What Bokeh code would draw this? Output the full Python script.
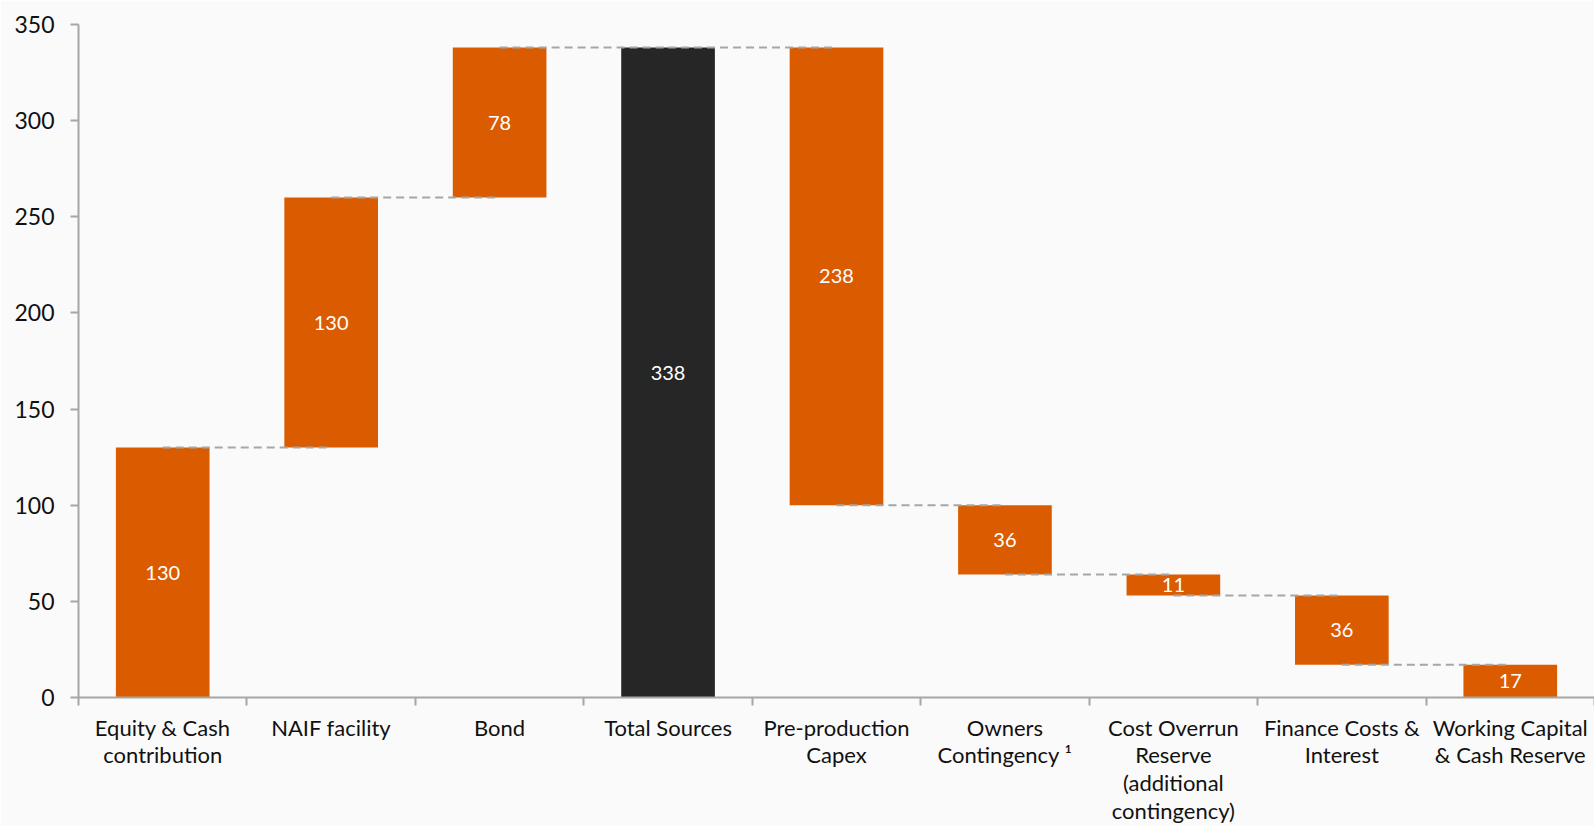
from bokeh.plotting import figure
from bokeh.models import Range1d, FixedTicker
from bokeh.core.properties import value
from bokeh.embed import file_html
from bokeh.resources import INLINE

categories = ["Equity & Cash\ncontribution", "NAIF facility", "Bond", "Total Sources",
              "Pre-production\nCapex", "Owners\nContingency \u00b9", "Cost Overrun\nReserve\n(additional\ncontingency)",
              "Finance Costs &\nInterest", "Working Capital\n& Cash Reserve"]
values = [130, 130, 78, 338, 238, 36, 11, 36, 17]
kinds = ["up", "up", "up", "total", "down", "down", "down", "down", "down"]
y_ticks = [0, 50, 100, 150, 200, 250, 300, 350]

ORANGE = "#DB5C00"
BLACK = "#262626"
GREY = "#A6A6A6"
BG = "#FAFAFA"
FONT = "Lato"
TXT = "#111111"

xs, bottoms, tops, colors, labels, mids = [], [], [], [], [], []
level = 0
ends = []
for i, (v, k) in enumerate(zip(values, kinds)):
    if k == "up":
        b, t = level, level + v
        level = t
    elif k == "total":
        b, t = 0, v
        level = v
    else:
        b, t = level - v, level
        level = b
    xs.append(i + 0.5)
    bottoms.append(b)
    tops.append(t)
    colors.append(BLACK if k == "total" else ORANGE)
    labels.append(str(v))
    mids.append((b + t) / 2)
    ends.append(level)

p = figure(width=1594, height=826, output_backend="svg", toolbar_location=None,
           x_range=Range1d(0, len(categories)), y_range=Range1d(0, 350),
           min_border_left=78, min_border_right=0, min_border_top=24, min_border_bottom=128,
           background_fill_color=BG, border_fill_color=BG, outline_line_color=None)
p.grid.visible = False

p.vbar(x=xs, bottom=bottoms, top=tops, width=0.556, fill_color=colors, line_color=None)

# connectors
x0s = [xs[i] for i in range(len(xs) - 1)]
x1s = [xs[i + 1] for i in range(len(xs) - 1)]
ys = [ends[i] for i in range(len(xs) - 1)]
p.segment(x0=x0s, y0=ys, x1=x1s, y1=ys, line_color=GREY, line_width=2, line_dash="8 5")

p.text(x=xs, y=mids, text=labels, text_color="white", text_align="center", text_baseline="middle",
       text_font=value(FONT), text_font_size="20px")

# x axis: ticks at category boundaries (minor), labels at centres (major)
xa = p.xaxis[0]
xa.ticker = FixedTicker(ticks=xs, minor_ticks=list(range(len(categories) + 1)))
xa.major_label_overrides = {x: c for x, c in zip(xs, categories)}
xa.major_tick_line_color = None
xa.minor_tick_line_color = GREY
xa.minor_tick_line_width = 2
xa.minor_tick_out = 8
xa.minor_tick_in = 0
xa.axis_line_color = GREY
xa.axis_line_width = 2
xa.major_label_text_font = FONT
xa.major_label_text_font_size = "22px"
xa.major_label_text_color = TXT
xa.major_label_text_line_height = 1.025
xa.major_label_standoff = 8

ya = p.yaxis[0]
ya.ticker = FixedTicker(ticks=y_ticks)
ya.axis_line_color = GREY
ya.axis_line_width = 2
ya.major_tick_line_color = GREY
ya.major_tick_line_width = 2
ya.major_tick_out = 8
ya.major_tick_in = 0
ya.minor_tick_line_color = None
ya.major_label_text_font = FONT
ya.major_label_text_font_size = "23px"
ya.major_label_text_color = TXT
ya.major_label_standoff = 16

open("out.html", "w").write(file_html(p, INLINE))
